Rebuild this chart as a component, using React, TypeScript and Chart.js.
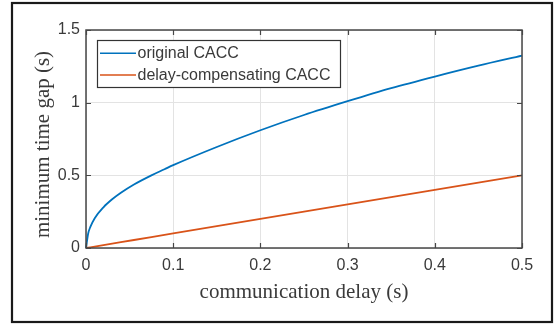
import React, { useEffect, useRef } from "react";
import { Chart, registerables } from "chart.js";

Chart.register(...registerables);

const delays = [0, 0.0025, 0.005, 0.01, 0.02, 0.03, 0.04, 0.055, 0.075, 0.09, 0.1, 0.15, 0.2, 0.25, 0.3, 0.35, 0.4, 0.45, 0.5];
const originalGap = [0, 0.1, 0.145, 0.205, 0.28, 0.335, 0.38, 0.437, 0.5, 0.542, 0.57, 0.695, 0.81, 0.915, 1.01, 1.1, 1.18, 1.255, 1.324];
const compensatedGap = [0, 0.0025, 0.005, 0.01, 0.02, 0.03, 0.04, 0.055, 0.075, 0.09, 0.1, 0.15, 0.2, 0.25, 0.3, 0.35, 0.4, 0.45, 0.5];
const seriesLabels = ["original CACC", "delay-compensating CACC"];
const xTickValues = [0, 0.1, 0.2, 0.3, 0.4, 0.5];
const xTickLabels = ["0", "0.1", "0.2", "0.3", "0.4", "0.5"];
const yTickValues = [0, 0.5, 1, 1.5];
const yTickLabels = ["0", "0.5", "1", "1.5"];
const xTitle = "communication delay (s)";
const yTitle = "minimum time gap (s)";

const BLUE = "#0072BD";
const ORANGE = "#D95319";
const TEXT = "#3a3a3a";
const SERIF = '"Liberation Serif", "Times New Roman", serif';
const SANS = '"Liberation Sans", Arial, sans-serif';

const decorPlugin = {
  id: "decor",
  beforeDraw(chart: any) {
    const { ctx, width, height } = chart;
    ctx.save();
    ctx.fillStyle = "#ffffff";
    ctx.fillRect(0, 0, width, height);
    ctx.restore();
  },
  afterDraw(chart: any) {
    const { ctx } = chart;
    const { left, right, top, bottom } = chart.chartArea;
    const x = chart.scales.x;
    const y = chart.scales.y;
    ctx.save();
    // axes box
    ctx.strokeStyle = "#474747";
    ctx.lineWidth = 1.5;
    ctx.strokeRect(left, top, right - left, bottom - top);
    // inward ticks
    const tl = 5;
    ctx.beginPath();
    xTickValues.forEach((v) => {
      const px = Math.round(x.getPixelForValue(v)) + 0.5;
      ctx.moveTo(px, bottom);
      ctx.lineTo(px, bottom - tl);
      ctx.moveTo(px, top);
      ctx.lineTo(px, top + tl);
    });
    yTickValues.forEach((v) => {
      const py = Math.round(y.getPixelForValue(v)) + 0.5;
      ctx.moveTo(left, py);
      ctx.lineTo(left + tl, py);
      ctx.moveTo(right, py);
      ctx.lineTo(right - tl, py);
    });
    ctx.lineWidth = 1.2;
    ctx.stroke();

    // y-axis title
    ctx.save();
    ctx.translate(49, 144.5);
    ctx.rotate(-Math.PI / 2);
    ctx.fillStyle = TEXT;
    ctx.font = `21px ${SERIF}`;
    ctx.textAlign = "center";
    ctx.textBaseline = "alphabetic";
    ctx.fillText(yTitle, 0, 0);
    ctx.restore();

    // legend
    const lx = 97, ly = 40, lw = 243, lh = 47;
    ctx.fillStyle = "#ffffff";
    ctx.fillRect(lx, ly, lw, lh);
    ctx.strokeStyle = "#333333";
    ctx.lineWidth = 1.2;
    ctx.strokeRect(lx + 0.5, ly + 0.5, lw, lh);
    chart.data.datasets.forEach((ds: any, i: number) => {
      const cy = 53.3 + i * 21.7;
      ctx.strokeStyle = ds.borderColor;
      ctx.lineWidth = 1.6;
      ctx.beginPath();
      ctx.moveTo(100, cy);
      ctx.lineTo(136, cy);
      ctx.stroke();
      ctx.fillStyle = TEXT;
      ctx.font = `16px ${SANS}`;
      ctx.textBaseline = "middle";
      ctx.textAlign = "left";
      ctx.fillText(ds.label, 137.5, cy + 0.5);
    });

    // outer frame
    ctx.strokeStyle = "#1a1a1a";
    ctx.lineWidth = 2.2;
    ctx.strokeRect(12, 3, 540, 319);
    ctx.restore();
  },
};

export default function App() {
  const ref = useRef<HTMLCanvasElement | null>(null);
  useEffect(() => {
    if (!ref.current) return;
    const chart = new Chart(ref.current, {
      type: "line",
      data: {
        datasets: [
          {
            label: seriesLabels[0],
            data: delays.map((d, i) => ({ x: d, y: originalGap[i] })),
            borderColor: BLUE,
            backgroundColor: BLUE,
            borderWidth: 1.8,
            pointRadius: 0,
            cubicInterpolationMode: "monotone",
            clip: false,
          },
          {
            label: seriesLabels[1],
            data: delays.map((d, i) => ({ x: d, y: compensatedGap[i] })),
            borderColor: ORANGE,
            backgroundColor: ORANGE,
            borderWidth: 1.8,
            pointRadius: 0,
            clip: false,
          },
        ],
      },
      options: {
        animation: false,
        responsive: false,
        maintainAspectRatio: false,
        layout: { padding: { left: 0, top: 30, right: 33, bottom: 0 } },
        plugins: {
          legend: { display: false },
          tooltip: { enabled: false },
        },
        scales: {
          x: {
            type: "linear",
            min: 0,
            max: 0.5,
            afterFit: (s: any) => {
              s.height = 78;
            },
            afterBuildTicks: (s: any) => {
              s.ticks = xTickValues.map((v) => ({ value: v }));
            },
            ticks: {
              padding: 8,
              color: TEXT,
              font: { family: SANS, size: 16 },
              callback: (_v: any, i: number) => xTickLabels[i],
              maxRotation: 0,
            },
            grid: { color: "#e3e3e3", lineWidth: 1, drawTicks: false, tickLength: 0 },
            border: { display: false },
            title: {
              display: true,
              text: xTitle,
              color: TEXT,
              font: { family: SERIF, size: 21 },
              padding: { top: 0, bottom: 21 },
            },
          },
          y: {
            type: "linear",
            min: 0,
            max: 1.5,
            afterFit: (s: any) => {
              s.width = 86;
            },
            afterBuildTicks: (s: any) => {
              s.ticks = yTickValues.map((v) => ({ value: v }));
            },
            ticks: {
              padding: 6,
              color: TEXT,
              font: { family: SANS, size: 16 },
              callback: (_v: any, i: number) => yTickLabels[i],
            },
            grid: { color: "#e3e3e3", lineWidth: 1, drawTicks: false, tickLength: 0 },
            border: { display: false },
            title: { display: false },
          },
        },
      },
      plugins: [decorPlugin],
    } as any);
    return () => chart.destroy();
  }, []);
  return (
    <div style={{ position: "fixed", left: 0, top: 0, width: 555, height: 326, background: "#fff" }}>
      <canvas ref={ref} width={555} height={326} style={{ width: 555, height: 326, display: "block" }} />
    </div>
  );
}
